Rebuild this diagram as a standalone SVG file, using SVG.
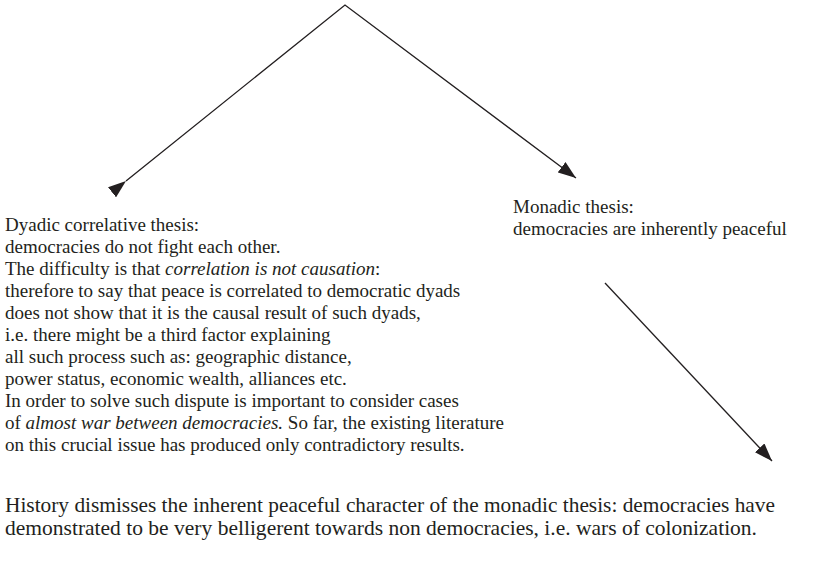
<svg xmlns="http://www.w3.org/2000/svg" width="824" height="570" viewBox="0 0 824 570">
<defs>
<style>
text{font-family:'Liberation Serif','DejaVu Serif',serif;font-size:19px;fill:#231f20}
.h{font-size:21.5px}
.c{stroke:#231f20;stroke-width:1.3;fill:none}
</style>
<marker id="ah" viewBox="0 0 18 13" refX="18" refY="6.5" markerWidth="18" markerHeight="13" markerUnits="userSpaceOnUse" orient="auto">
<path d="M0,0 L18,6.5 L0,13 Z" fill="#231f20"/>
</marker>
</defs>
<rect width="824" height="570" fill="#fff"/>
<g id="connectors">
<path class="c" d="M126,181 L345,5 L576,178" marker-start="url(#ah)" marker-end="url(#ah)"/>
<line class="c" x1="605" y1="283" x2="772" y2="461" marker-end="url(#ah)"/>
</g>
<g id="dyadic">
<text x="5" y="231">Dyadic correlative thesis:</text>
<text x="5" y="253">democracies do not fight each other.</text>
<text x="5" y="275">The difficulty is that <tspan font-style="italic">correlation is not causation</tspan>:</text>
<text x="5" y="297">therefore to say that peace is correlated to democratic dyads</text>
<text x="5" y="319">does not show that it is the causal result of such dyads,</text>
<text x="5" y="341">i.e. there might be a third factor explaining</text>
<text x="5" y="363">all such process such as: geographic distance,</text>
<text x="5" y="385">power status, economic wealth, alliances etc.</text>
<text x="5" y="407">In order to solve such dispute is important to consider cases</text>
<text x="5" y="429">of <tspan font-style="italic">almost war between democracies.</tspan> So far, the existing literature</text>
<text x="5" y="451">on this crucial issue has produced only contradictory results.</text>
</g>
<g id="monadic">
<text x="513" y="213">Monadic thesis:</text>
<text x="513" y="235">democracies are inherently peaceful</text>
</g>
<g id="history">
<text class="h" x="5" y="512" textLength="770" lengthAdjust="spacingAndGlyphs">History dismisses the inherent peaceful character of the monadic thesis: democracies have</text>
<text class="h" x="5" y="535" textLength="752" lengthAdjust="spacingAndGlyphs">demonstrated to be very belligerent towards non democracies, i.e. wars of colonization.</text>
</g>
</svg>
